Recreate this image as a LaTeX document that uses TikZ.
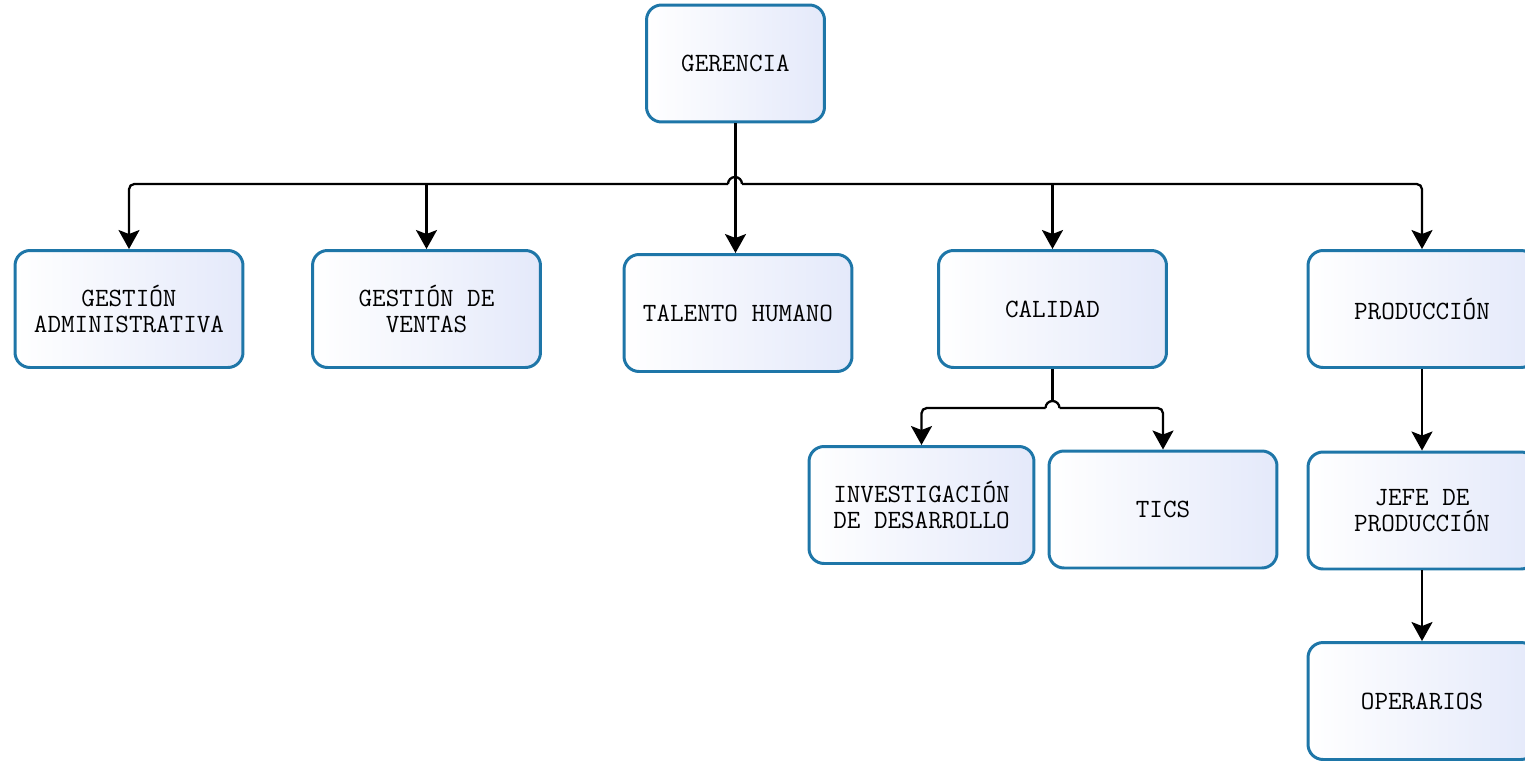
\documentclass[tikz,border=0pt]{standalone}
\usepackage{fontspec}
\usepackage{tikz}
\usetikzlibrary{arrows.meta, positioning}

\definecolor{borde}{RGB}{30,118,168}
\definecolor{fondo}{RGB}{228,233,250}

\tikzset{
  caja/.style={draw=borde, line width=1.7pt, rounded corners=0.3cm,
    minimum width=4.56cm, minimum height=2.34cm, align=center,
    left color=white, right color=fondo,
    font=\ttfamily\fontsize{15}{14.5}\selectfont},
  linea/.style={line width=1.3pt},
  flecha/.style={linea, -{Stealth[length=0.38cm, width=0.42cm, inset=0.08cm]}},
}

\begin{document}
\begin{tikzpicture}[x=0.02cm, y=-0.02cm]
        \useasboundingbox (0,0) rectangle (1525,761);
        \clip (0,0) rectangle (1525,761);

        %箱
        \node[caja, minimum width=3.56cm] (gerencia) at (735.5,63.5) {GERENCIA};
        \node[caja] (admin) at (129,309) {GESTIÓN\\ADMINISTRATIVA};
        \node[caja] (ventas) at (426.5,309) {GESTIÓN DE\\VENTAS};
        \node[caja] (talento) at (738,313) {TALENTO HUMANO};
        \node[caja] (calidad) at (1052.5,309) {CALIDAD};
        \node[caja] (produccion) at (1422,309) {PRODUCCIÓN};
        \node[caja, minimum width=4.5cm] (investigacion) at (921.5,505) {INVESTIGACIÓN\\DE DESARROLLO};
        \node[caja] (tics) at (1163,509.5) {TICS};
        \node[caja] (jefe) at (1422,510.5) {JEFE DE\\PRODUCCIÓN};
        \node[caja] (operarios) at (1422,701) {OPERARIOS};

        %横線の分岐点
        \coordinate (bus) at (735,184);
        \coordinate (saltoI) at (728,184);
        \coordinate (saltoD) at (742,184);

        \draw[flecha] (gerencia.south) -- (gerencia.south |- talento.north);
        \draw[flecha, rounded corners=3pt] (saltoI) -| (admin.north);
        \draw[flecha, rounded corners=3pt] (saltoD) -| (produccion.north);
        \draw[linea] (saltoI) arc[start angle=180, end angle=0, radius=0.14cm]; %交差はジャンプで書く
        \draw[flecha] (ventas.north |- bus) -- (ventas.north);
        \draw[flecha] (calidad.north |- bus) -- (calidad.north);

        %CALIDAD の下
        \coordinate (bus2) at (1052.5,408);
        \coordinate (salto2I) at (1045.5,408);
        \coordinate (salto2D) at (1059.5,408);
        \draw[linea] (calidad.south) -- ([yshift=0.14cm]bus2);
        \draw[linea] (salto2I) arc[start angle=180, end angle=0, radius=0.14cm];
        \draw[flecha, rounded corners=3pt] (salto2I) -| (investigacion.north);
        \draw[flecha, rounded corners=3pt] (salto2D) -| (tics.north);

        %PRODUCCIÓN の下
        \draw[flecha] (produccion) -- (jefe);
        \draw[flecha] (jefe) -- (operarios);
    \end{tikzpicture}
\end{document}
